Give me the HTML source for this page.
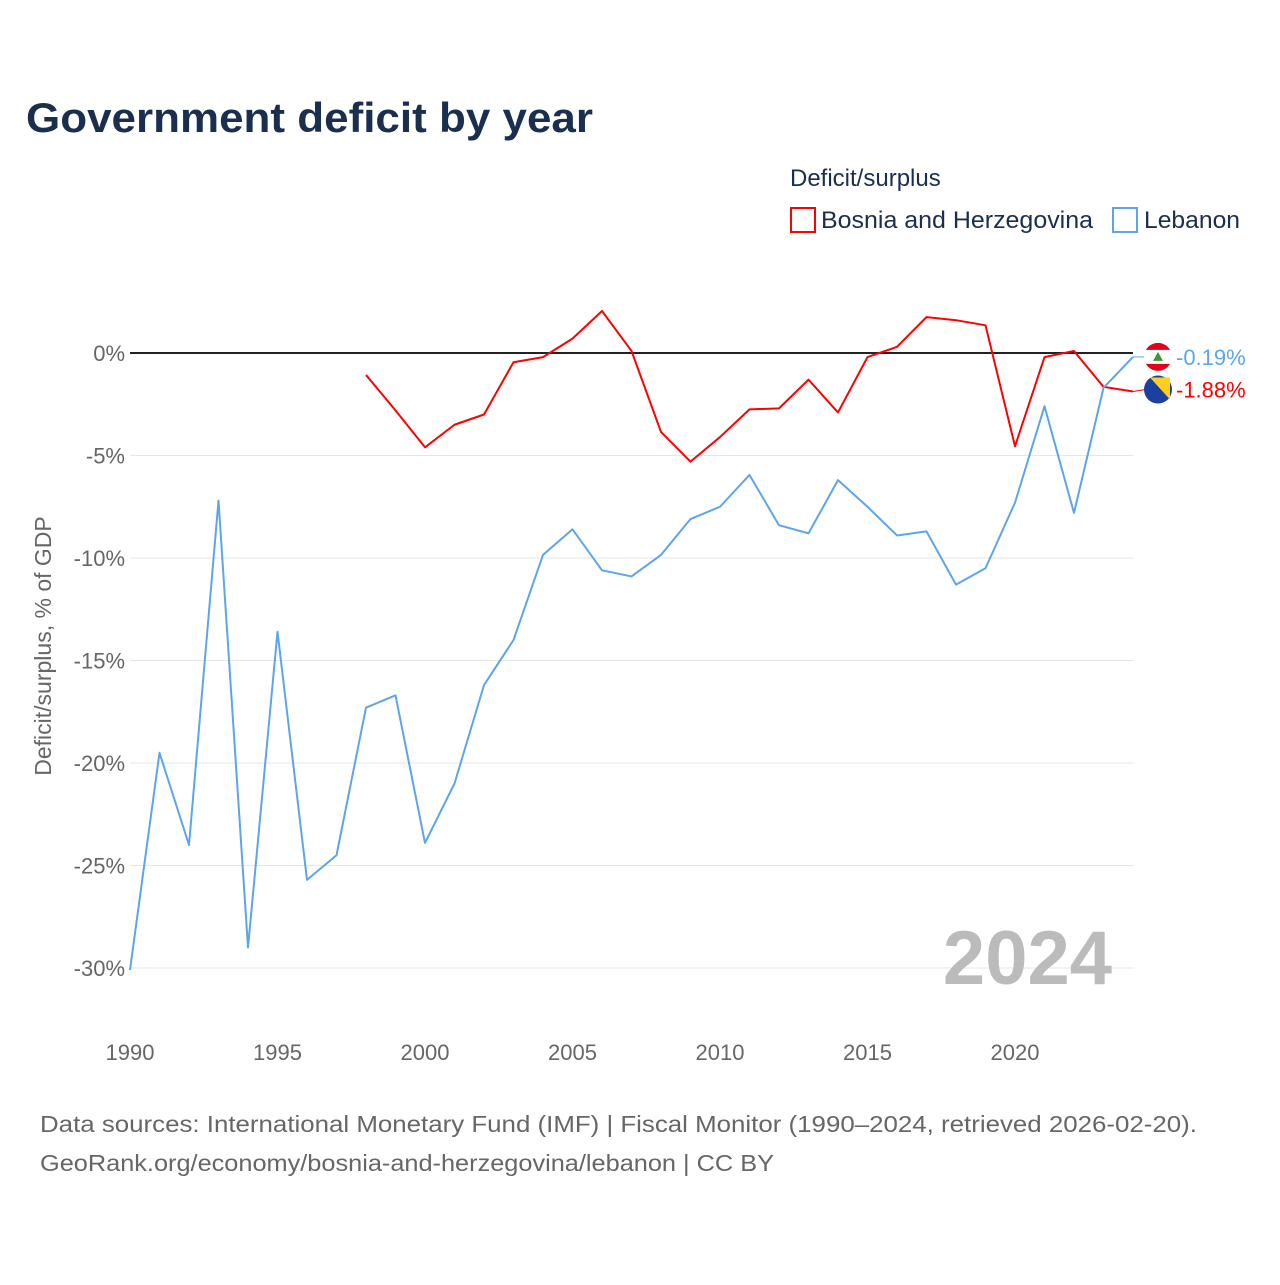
<!DOCTYPE html>
<html><head><meta charset="utf-8">
<style>
body{margin:0;background:#fff;font-family:"Liberation Sans",sans-serif;}
</style></head>
<body>
<svg width="1280" height="1280" xmlns="http://www.w3.org/2000/svg" font-family="Liberation Sans, sans-serif">
<text x="26" y="132" font-size="42" font-weight="bold" fill="#1a2e4f" textLength="567" lengthAdjust="spacingAndGlyphs">Government deficit by year</text>
<text x="790" y="186" font-size="24" fill="#1a2e4f">Deficit/surplus</text>
<g><rect x="791" y="208" width="24" height="24" fill="none" stroke="#f00" stroke-width="2"/><text x="821" y="228" font-size="24" fill="#1a2e4f" textLength="272" lengthAdjust="spacingAndGlyphs">Bosnia and Herzegovina</text></g>
<g><rect x="1113" y="208" width="24" height="24" fill="none" stroke="#5da5ea" stroke-width="2"/><text x="1144" y="228" font-size="24" fill="#1a2e4f" textLength="96" lengthAdjust="spacingAndGlyphs">Lebanon</text></g>
<text transform="translate(51,646) rotate(-90)" text-anchor="middle" font-size="23" fill="#666">Deficit/surplus, % of GDP</text>
<g id="grid"></g><g id="series"></g>
<text x="1112" y="984" text-anchor="end" font-size="76" font-weight="bold" fill="#bbb">2024</text>
<text x="40" y="1132" font-size="23" fill="#666" textLength="1157" lengthAdjust="spacingAndGlyphs">Data sources: International Monetary Fund (IMF) | Fiscal Monitor (1990–2024, retrieved 2026-02-20).</text>
<text x="40" y="1171" font-size="23" fill="#666" textLength="734" lengthAdjust="spacingAndGlyphs">GeoRank.org/economy/bosnia-and-herzegovina/lebanon | CC BY</text>
</svg>
<script>
const yTicks=[0,-5,-10,-15,-20,-25,-30];
const xTicks=[1990,1995,2000,2005,2010,2015,2020];
const lebYears=[1990,1991,1992,1993,1994,1995,1996,1997,1998,1999,2000,2001,2002,2003,2004,2005,2006,2007,2008,2009,2010,2011,2012,2013,2014,2015,2016,2017,2018,2019,2020,2021,2022,2023,2024];
const lebanon=[-30.1,-19.5,-24.0,-7.2,-29.0,-13.6,-25.7,-24.5,-17.3,-16.7,-23.9,-21.0,-16.2,-14.0,-9.85,-8.6,-10.6,-10.9,-9.85,-8.1,-7.5,-5.95,-8.4,-8.8,-6.2,-7.5,-8.9,-8.7,-11.3,-10.5,-7.3,-2.6,-7.8,-1.7,-0.19];
const bihYears=[1998,1999,2000,2001,2002,2003,2004,2005,2006,2007,2008,2009,2010,2011,2012,2013,2014,2015,2016,2017,2018,2019,2020,2021,2022,2023,2024];
const bosnia=[-1.07,-2.8,-4.6,-3.5,-3.0,-0.45,-0.2,0.7,2.05,0.1,-3.85,-5.3,-4.1,-2.75,-2.7,-1.3,-2.9,-0.2,0.3,1.75,1.6,1.35,-4.55,-0.2,0.1,-1.65,-1.88];
const NS="http://www.w3.org/2000/svg";
const X=y=>130+(y-1990)*29.5;
const Y=v=>353-v*20.5;
function mk(t,a,p){const e=document.createElementNS(NS,t);for(const k in a)e.setAttribute(k,a[k]);p.appendChild(e);return e;}
const g=document.getElementById('grid'),s=document.getElementById('series');
yTicks.forEach(v=>{
 const l=mk('line',{x1:130,x2:1133,y1:Y(v),y2:Y(v),stroke:v===0?'#222':'#e6e6e6','stroke-width':v===0?2:1},g);
 
 
 const t=mk('text',{x:125,y:Y(v)+8,'text-anchor':'end','font-size':22,fill:'#666'},g);t.textContent=v+'%';
 
 
});
xTicks.forEach(v=>{
 const t=mk('text',{x:X(v),y:1060,'text-anchor':'middle','font-size':22,fill:'#666'},g);t.textContent=v;
 
 
});
function line(ys,vals,c,n){
 const p=mk('polyline',{points:ys.map((y,i)=>X(y)+','+Y(vals[i])).join(' '),fill:'none',stroke:c,'stroke-width':2,'stroke-linejoin':'round'},s);
 
 
}
line(bihYears,bosnia,'#f00','bosnia-line');
line(lebYears,lebanon,'#5da5ea','lebanon-line');
function endLab(v,c,dy,n,flag){
 const ly=Y(v)+dy;
 mk('line',{x1:1133,y1:Y(v),x2:1145,y2:ly,stroke:c,'stroke-width':1},s);
 const f=mk('g',{},s);
 
 
 if(flag==='lb'){mk('circle',{cx:1158,cy:ly,r:14,fill:'#e3001b'},f);mk('rect',{x:1144,y:ly-7,width:28,height:14,fill:'#fff'},f);mk('path',{d:`M1158 ${ly-5} L1153 ${ly+4} L1163 ${ly+4}Z`,fill:'#3a9a3a'},f);}
 else{mk('circle',{cx:1158,cy:ly,r:14,fill:'#1c3fa0'},f);mk('path',{d:`M1150 ${ly-12} L1170 ${ly-12} L1170 ${ly+10}Z`,fill:'#fdd020'},f);}
 const t=mk('text',{x:1176,y:ly+8,'font-size':22,fill:c},s);t.textContent=v.toFixed(2)+'%';
 
 
}
endLab(lebanon[lebanon.length-1],'#5da5ea',0,'lebanon','lb');
endLab(bosnia[bosnia.length-1],'#f00',-2,'bosnia','ba');
</script>
</body></html>
